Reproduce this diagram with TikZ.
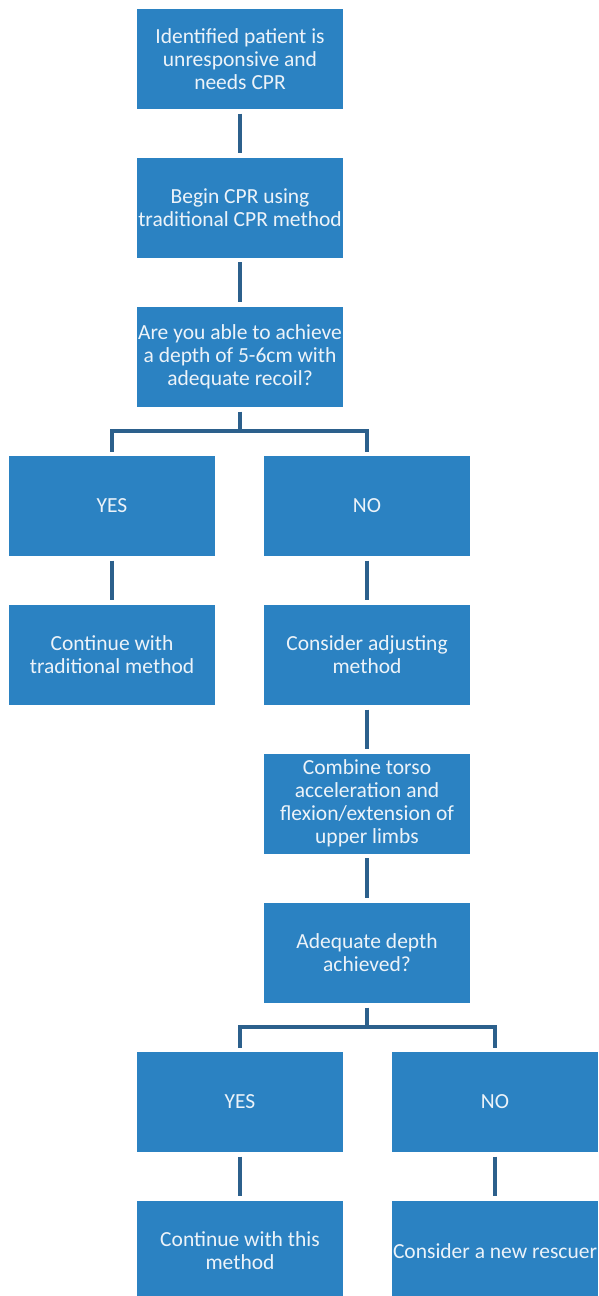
\documentclass[tikz,border=0pt]{standalone}
\usepackage{fontspec}
\setmainfont{Carlito}
\definecolor{boxblue}{RGB}{43,130,194}
\definecolor{linkblue}{RGB}{44,96,140}
\definecolor{txt}{RGB}{236,243,249}
\begin{document}
\begin{tikzpicture}[x=1pt,y=1pt,
  box/.style={rectangle, fill=boxblue, minimum width=206pt, minimum height=100pt, inner sep=0pt,
    text=txt, align=center, font=\fontsize{21.5}{23}\selectfont},
  conn/.style={draw=linkblue, line width=4pt, shorten <=4.5pt, shorten >=4.5pt},
  seg/.style={draw=linkblue, line width=4pt}]
\useasboundingbox (0,0) rectangle (598,-1296);
\clip (0,0) rectangle (598,-1296);
\node[box] (b1) at (240,-59) {Identified patient is\\unresponsive and\\needs CPR};
\node[box] (b2) at (240,-207.5) {Begin CPR using\\traditional CPR method};
\node[box] (b3) at (240,-357) {Are you able to achieve\\a depth of 5-6cm with\\adequate recoil?};
\node[box] (yes1) at (112,-506) {YES};
\node[box] (no1) at (367,-506) {NO};
\node[box] (cont1) at (112,-655) {Continue with\\traditional method};
\node[box] (adj) at (367,-655) {Consider adjusting\\method};
\node[box] (comb) at (367,-803.5) {Combine torso\\acceleration and\\flexion/extension of\\upper limbs};
\node[box] (adeq) at (367,-953) {Adequate depth\\achieved?};
\node[box] (yes2) at (240,-1102) {YES};
\node[box] (no2) at (495,-1102) {NO};
\node[box] (cont2) at (240,-1251) {Continue with this\\method};
\node[box] (resc) at (495,-1251) {Consider a new rescuer};
\draw[conn] (b1) -- (b2);
\draw[conn] (b2) -- (b3);
\coordinate (j1) at (240,-431);
\draw[seg, shorten <=4.5pt] (b3.south) -- (j1);
\draw[seg, shorten >=4pt] (j1) -| (yes1.north);
\draw[seg, shorten >=4pt] (j1) -| (no1.north);
\draw[conn] (yes1) -- (cont1);
\draw[conn] (no1) -- (adj);
\draw[conn] (adj) -- (comb);
\draw[conn] (comb) -- (adeq);
\coordinate (j2) at (367,-1027);
\draw[seg, shorten <=4.5pt] (adeq.south) -- (j2);
\draw[seg, shorten >=4pt] (j2) -| (yes2.north);
\draw[seg, shorten >=4pt] (j2) -| (no2.north);
\draw[conn] (yes2) -- (cont2);
\draw[conn] (no2) -- (resc);
\end{tikzpicture}
\end{document}
